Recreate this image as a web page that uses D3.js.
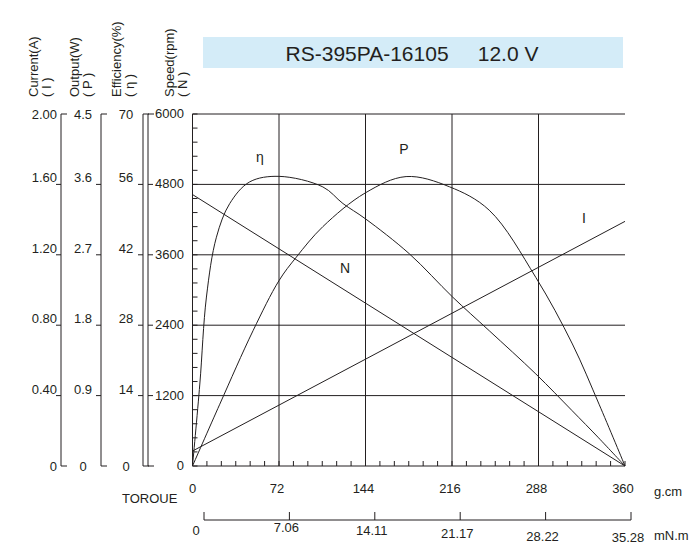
<!DOCTYPE html>
<html><head><meta charset="utf-8">
<script src="https://cdn.jsdelivr.net/npm/d3@7"></script>
<style>body{margin:0;background:#fff}text{font-family:"Liberation Sans",Arial,sans-serif;fill:#231f20}</style>
</head><body><svg id="c" width="700" height="550"></svg>
<script>
var torqueTicks = [0, 72, 144, 216, 288, 360];
var mnmTicks = ["0", "7.06", "14.11", "21.17", "28.22", "35.28"];
var currentTicks = ["0", "0.40", "0.80", "1.20", "1.60", "2.00"];
var outputTicks = ["0", "0.9", "1.8", "2.7", "3.6", "4.5"];
var effTicks = ["0", "14", "28", "42", "56", "70"];
var speedTicks = [0, 1200, 2400, 3600, 4800, 6000];

// speed (rpm) vs torque (g.cm)
var speedData = [[0, 4627], [360, 0]];
// current (A)
var currentData = [[0, 0.085], [360, 1.39]];
// output (W)
var outputData = [[0, 0], [22.7, 0.79], [50.4, 1.73], [72, 2.37], [86.4, 2.67], [108.5, 3.06],
  [143.7, 3.49], [177.8, 3.70], [213.8, 3.57], [247, 3.27], [285.8, 2.41], [316.2, 1.56],
  [338.4, 0.79], [360, 0]];
// efficiency (%)
var effData = [[0, 0], [6.1, 16.3], [11.6, 33.6], [19.9, 45.5], [31, 52.2], [47.6, 56.5],
  [72, 57.6], [108.5, 55.5], [125.2, 52.2], [143.7, 49.2], [180.5, 42.2], [216.5, 33.6],
  [247, 26.9], [285.8, 18.3], [316, 11], [338, 5.6], [360, 0]];

var svg = d3.select("#c");
var x = d3.scaleLinear().domain([0, 360]).range([192.5, 625]);
var yS = d3.scaleLinear().domain([0, 6000]).range([466, 114]);
var yI = d3.scaleLinear().domain([0, 2]).range([466, 114]);
var yP = d3.scaleLinear().domain([0, 4.5]).range([466, 114]);
var yE = d3.scaleLinear().domain([0, 70]).range([466, 114]);

// title
svg.append("rect").attr("x", 203).attr("y", 37).attr("width", 420).attr("height", 31).attr("fill", "#d4ecf8");
svg.append("text").attr("x", 412).attr("y", 61).attr("text-anchor", "middle").attr("font-size", 21)
  .attr("xml:space", "preserve").text("RS-395PA-16105     12.0 V");

// grid
var g = svg.append("g").attr("stroke", "#231f20").attr("stroke-width", 1);
speedTicks.slice(1).forEach(function(v) {
  g.append("line").attr("x1", x(0)).attr("x2", x(360)).attr("y1", yS(v)).attr("y2", yS(v));
});
torqueTicks.slice(1, 5).forEach(function(v) {
  g.append("line").attr("x1", x(v)).attr("x2", x(v)).attr("y1", yS(0)).attr("y2", yS(6000));
});
g.append("line").attr("x1", x(0)).attr("x2", x(0)).attr("y1", yS(0)).attr("y2", yS(6000));
g.append("line").attr("x1", x(0)).attr("x2", x(360)).attr("y1", yS(0)).attr("y2", yS(0));
// minor ticks
d3.range(0, 6001, 240).forEach(function(v) {
  g.append("line").attr("x1", x(0)).attr("x2", x(0) + 5).attr("y1", yS(v)).attr("y2", yS(v));
});
d3.range(0, 361, 12).forEach(function(v) {
  g.append("line").attr("x1", x(v)).attr("x2", x(v)).attr("y1", yS(0)).attr("y2", yS(0) - 5);
});

// speed labels
speedTicks.forEach(function(v) {
  svg.append("text").attr("x", 184).attr("y", yS(v) + 4).attr("text-anchor", "end").attr("font-size", 13).text(v);
});

// left scales
function sideAxis(ax, labels, lx, anchor) {
  g.append("line").attr("x1", ax).attr("x2", ax).attr("y1", 114).attr("y2", 466);
  labels.forEach(function(t, i) {
    var yy = yI(i * 0.4);
    var end = (i === 0 || i === 5);
    g.append("line").attr("x1", ax).attr("x2", end ? ax + 6 : ax - 5).attr("y1", yy).attr("y2", yy);
    svg.append("text").attr("x", lx).attr("y", yy + (end ? 5 : -2))
      .attr("text-anchor", anchor).attr("font-size", 13).text(t);
  });
}
sideAxis(61, currentTicks, 57, "end");
sideAxis(101, outputTicks, 83, "middle");
sideAxis(143, effTicks, 126, "middle");
g.append("line").attr("x1", 148).attr("x2", 154).attr("y1", 114).attr("y2", 114);
g.append("line").attr("x1", 148).attr("x2", 148).attr("y1", 114).attr("y2", 466);
g.append("line").attr("x1", 148).attr("x2", 154).attr("y1", 466).attr("y2", 466);
speedTicks.slice(1, 5).forEach(function(v) {
  g.append("line").attr("x1", 148).attr("x2", 153).attr("y1", yS(v)).attr("y2", yS(v));
});

// rotated axis titles
[["Current(A)", 38], ["( I )", 51], ["Output(W)", 79], ["( P )", 92],
 ["Efficiency(%)", 121], ["( η )", 134], ["Speed(rpm)", 174], ["( N )", 187]].forEach(function(d) {
  svg.append("text").attr("transform", "translate(" + d[1] + ",97) rotate(-90)").attr("font-size", 13).text(d[0]);
});

// curves
function curve(data, ys) {
  var line = d3.line().x(function(d) { return x(d[0]); }).y(function(d) { return ys(d[1]); }).curve(d3.curveCatmullRom);
  svg.append("path").datum(data).attr("d", line).attr("fill", "none").attr("stroke", "#231f20").attr("stroke-width", 1);
}
curve(speedData, yS);
curve(currentData, yI);
curve(outputData, yP);
curve(effData, yE);
svg.append("text").attr("x", 260).attr("y", 162).attr("font-size", 14).attr("text-anchor", "middle").text("η");
svg.append("text").attr("x", 404).attr("y", 154).attr("font-size", 14).attr("text-anchor", "middle").text("P");
svg.append("text").attr("x", 345).attr("y", 273).attr("font-size", 14).attr("text-anchor", "middle").text("N");
svg.append("text").attr("x", 584).attr("y", 223).attr("font-size", 14).attr("text-anchor", "middle").text("I");

// torque axis labels
torqueTicks.forEach(function(v) {
  svg.append("text").attr("x", x(v) + (v === 0 ? 0 : -2)).attr("y", 493).attr("text-anchor", "middle").attr("font-size", 13).text(v);
});
svg.append("text").attr("x", 654).attr("y", 496).attr("font-size", 13).text("g.cm");
svg.append("text").attr("x", 122).attr("y", 503).attr("font-size", 13).text("TOROUE");

// mN.m axis
var xm = d3.scaleLinear().domain([0, 5]).range([204, 631]);
g.append("line").attr("x1", xm(0)).attr("x2", xm(5)).attr("y1", 520).attr("y2", 520);
d3.range(0, 6).forEach(function(i) {
  g.append("line").attr("x1", xm(i)).attr("x2", xm(i)).attr("y1", 520).attr("y2", 512);
});
var mY = [535, 532, 535, 538, 541, 542];
mnmTicks.forEach(function(t, i) {
  svg.append("text").attr("x", i === 0 ? 196 : xm(i) - 3).attr("y", mY[i]).attr("text-anchor", "middle").attr("font-size", 13).text(t);
});
svg.append("text").attr("x", 654).attr("y", 540).attr("font-size", 13).text("mN.m");
</script></body></html>
